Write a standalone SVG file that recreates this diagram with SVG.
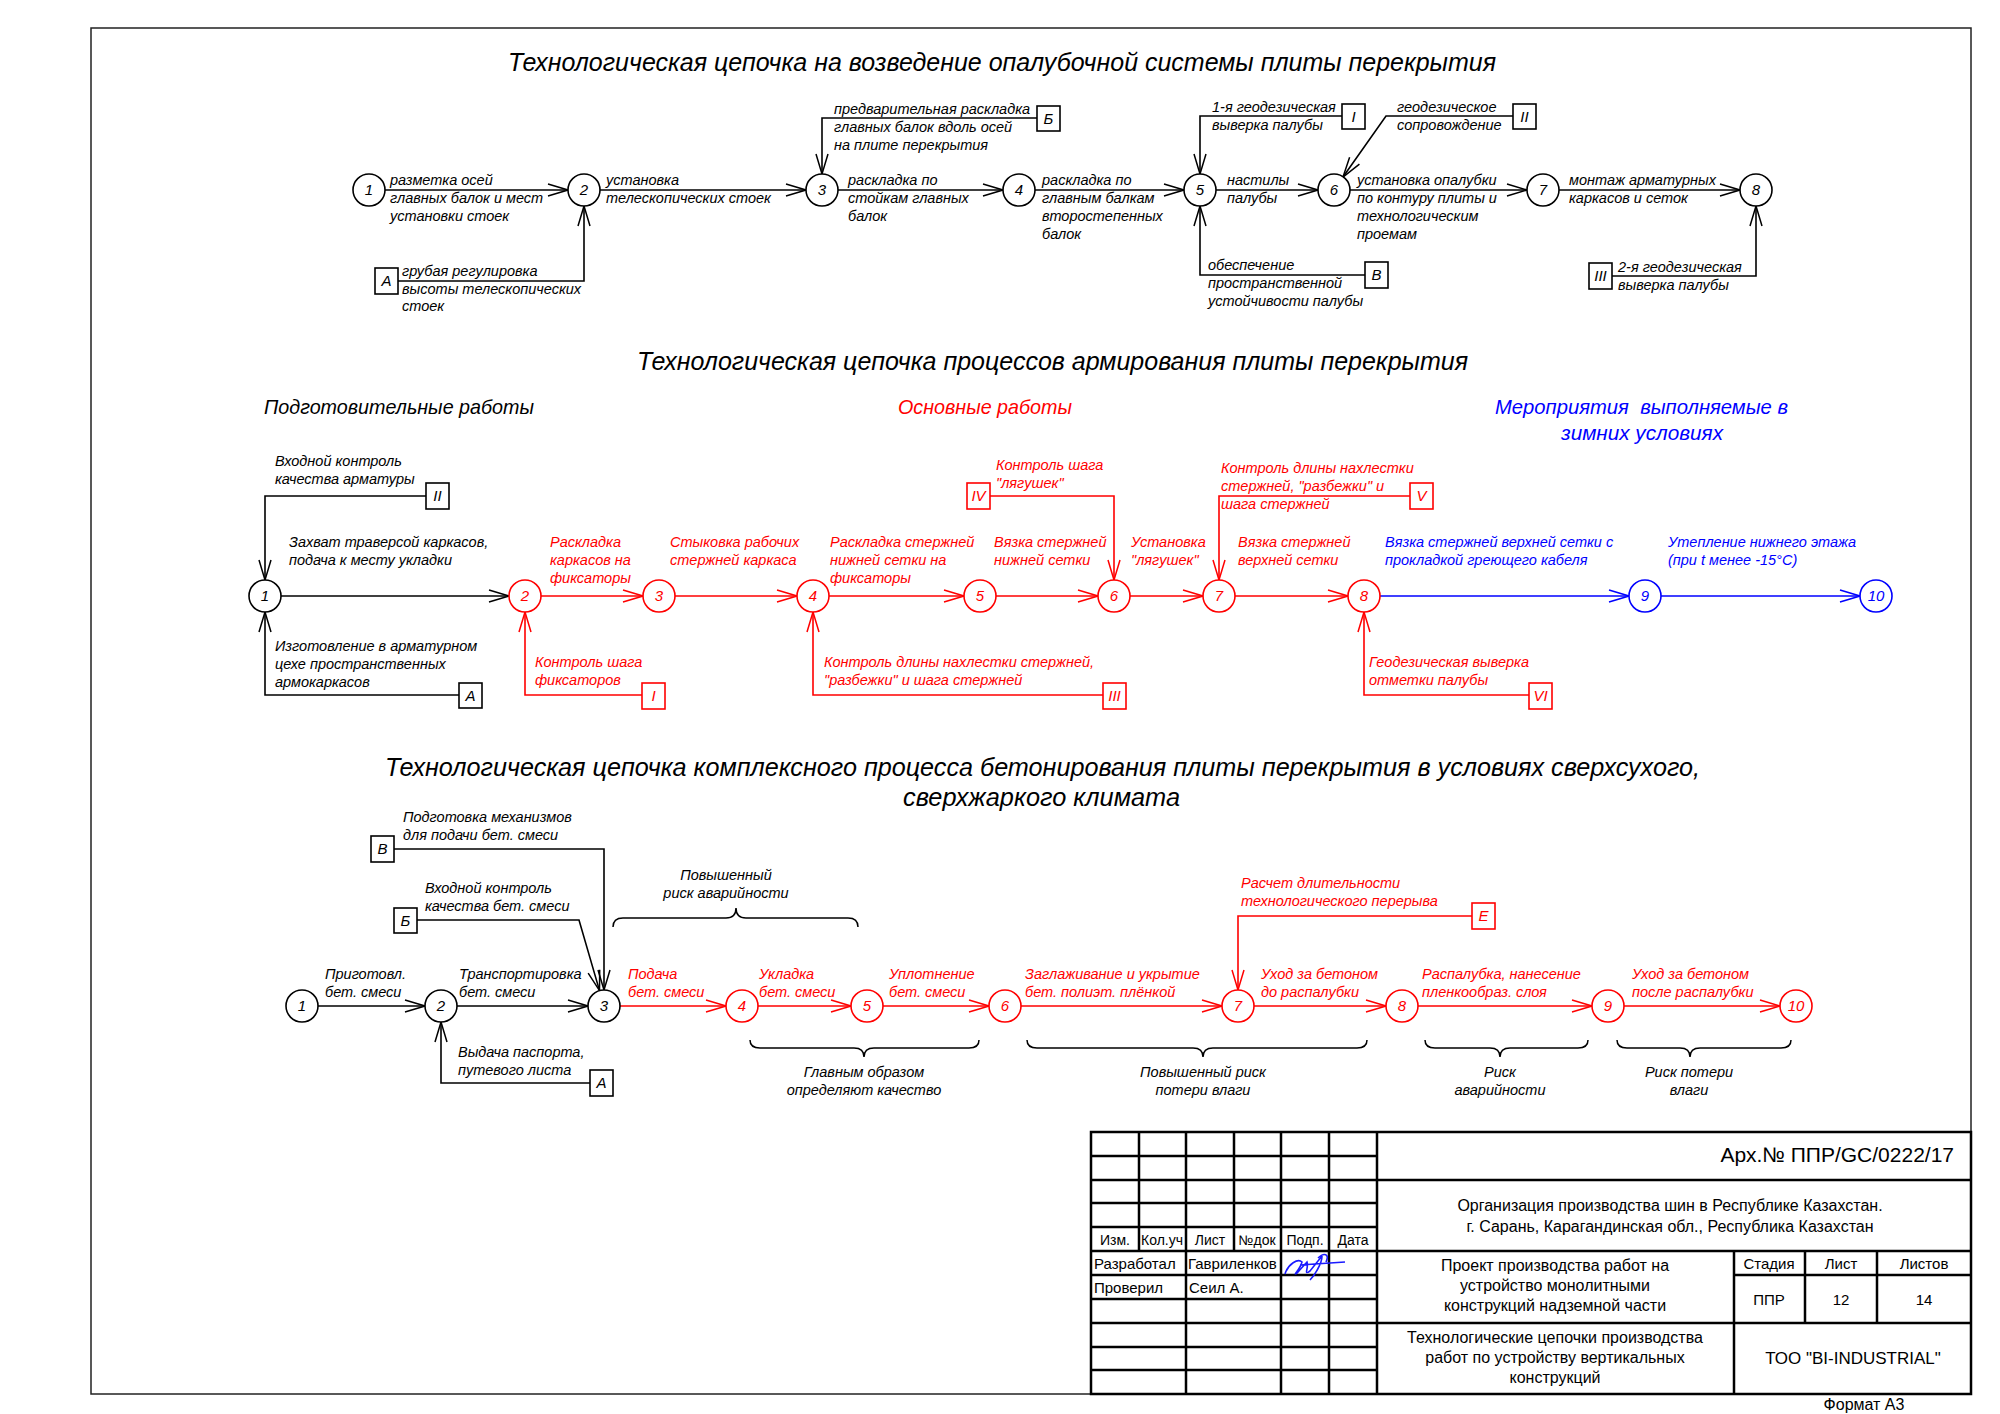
<svg xmlns="http://www.w3.org/2000/svg" width="2000" height="1414" viewBox="0 0 2000 1414">
<style>
text{font-family:"Liberation Sans","DejaVu Sans",sans-serif}
.l{font-size:14.5px;font-style:italic}
.n{font-size:15px;font-style:italic;text-anchor:middle}
.bx{font-size:15px;font-style:italic;text-anchor:middle}
.ttl{font-size:25px;font-style:italic}
.hd{font-size:21px;font-style:italic}
.c{text-anchor:middle}
.tb{font-size:16px}
.k{fill:#000}.r{fill:#ff0000}.b{fill:#0000ff}
.ek{stroke:#000;fill:none;stroke-width:1.6}
.er{stroke:#ff0000;fill:none;stroke-width:1.6}
.eb{stroke:#0000ff;fill:none;stroke-width:1.6}
.ck{stroke:#000;fill:#fff;stroke-width:1.6}
.cr{stroke:#ff0000;fill:#fff;stroke-width:1.6}
.cb{stroke:#0000ff;fill:#fff;stroke-width:1.6}
.br{stroke:#000;fill:none;stroke-width:1.5}
.g{stroke:#000;stroke-width:2.5;fill:none}
</style>
<defs>
<marker id="ak" markerUnits="userSpaceOnUse" markerWidth="24" markerHeight="16" viewBox="-22 -8 24 16" refX="0" refY="0" orient="auto"><path d="M-20,-6 L0,0 L-20,6" fill="none" stroke="#000" stroke-width="1.5"/></marker>
<marker id="ar" markerUnits="userSpaceOnUse" markerWidth="24" markerHeight="16" viewBox="-22 -8 24 16" refX="0" refY="0" orient="auto"><path d="M-20,-6 L0,0 L-20,6" fill="none" stroke="#ff0000" stroke-width="1.5"/></marker>
<marker id="ab" markerUnits="userSpaceOnUse" markerWidth="24" markerHeight="16" viewBox="-22 -8 24 16" refX="0" refY="0" orient="auto"><path d="M-20,-6 L0,0 L-20,6" fill="none" stroke="#0000ff" stroke-width="1.5"/></marker>
</defs>
<rect width="2000" height="1414" fill="#fff"/>
<rect x="91" y="28" width="1880" height="1366" fill="none" stroke="#222" stroke-width="1.5"/>

<!-- titles -->
<text class="ttl" x="508" y="71" textLength="988" lengthAdjust="spacingAndGlyphs">Технологическая цепочка на возведение опалубочной системы плиты перекрытия</text>
<text class="ttl" x="637" y="370" textLength="831" lengthAdjust="spacingAndGlyphs">Технологическая цепочка процессов армирования плиты перекрытия</text>
<text class="ttl" x="385" y="776" textLength="1315" lengthAdjust="spacingAndGlyphs">Технологическая цепочка комплексного процесса бетонирования плиты перекрытия в условиях сверхсухого,</text>
<text class="ttl" x="903" y="806" textLength="277" lengthAdjust="spacingAndGlyphs">сверхжаркого климата</text>
<text class="hd k" x="264" y="414" textLength="270" lengthAdjust="spacingAndGlyphs">Подготовительные работы</text>
<text class="hd r" x="898" y="414" textLength="174" lengthAdjust="spacingAndGlyphs">Основные работы</text>
<text class="hd b" x="1495" y="414" textLength="293" lengthAdjust="spacingAndGlyphs" style="white-space:pre">Мероприятия  выполняемые в</text>
<text class="hd b" x="1561" y="440" textLength="162" lengthAdjust="spacingAndGlyphs">зимних условиях</text>

<!-- connectors -->
<g id="connectors">
<path class="ek" marker-end="url(#ak)" d="M385,190 H568"/>
<path class="ek" marker-end="url(#ak)" d="M600,190 H806"/>
<path class="ek" marker-end="url(#ak)" d="M838,190 H1003"/>
<path class="ek" marker-end="url(#ak)" d="M1035,190 H1184"/>
<path class="ek" marker-end="url(#ak)" d="M1216,190 H1318"/>
<path class="ek" marker-end="url(#ak)" d="M1350,190 H1527"/>
<path class="ek" marker-end="url(#ak)" d="M1559,190 H1740"/>
<path class="ek" marker-end="url(#ak)" d="M398,281 H584 V206"/>
<path class="ek" marker-end="url(#ak)" d="M1037,118 H822 V174"/>
<path class="ek" marker-end="url(#ak)" d="M1342,116 H1200 V174"/>
<path class="ek" marker-end="url(#ak)" d="M1513,116 H1386 L1343,177"/>
<path class="ek" marker-end="url(#ak)" d="M1365,275 H1200 V206"/>
<path class="ek" marker-end="url(#ak)" d="M1612,276 H1756 V206"/>
<!-- section 2 -->
<path class="ek" marker-end="url(#ak)" d="M281,596 H509"/>
<path class="er" marker-end="url(#ar)" d="M541,596 H643"/>
<path class="er" marker-end="url(#ar)" d="M675,596 H797"/>
<path class="er" marker-end="url(#ar)" d="M829,596 H964"/>
<path class="er" marker-end="url(#ar)" d="M996,596 H1098"/>
<path class="er" marker-end="url(#ar)" d="M1130,596 H1203"/>
<path class="er" marker-end="url(#ar)" d="M1235,596 H1348"/>
<path class="eb" marker-end="url(#ab)" d="M1380,596 H1629"/>
<path class="eb" marker-end="url(#ab)" d="M1661,596 H1860"/>
<path class="ek" marker-end="url(#ak)" d="M426,496 H265 V580"/>
<path class="ek" marker-end="url(#ak)" d="M459,695 H265 V612"/>
<path class="er" marker-end="url(#ar)" d="M642,695 H525 V612"/>
<path class="er" marker-end="url(#ar)" d="M1103,695 H813 V612"/>
<path class="er" marker-end="url(#ar)" d="M990,496 H1114 V580"/>
<path class="er" marker-end="url(#ar)" d="M1410,496 H1219 V580"/>
<path class="er" marker-end="url(#ar)" d="M1529,695 H1364 V612"/>
<!-- section 3 -->
<path class="ek" marker-end="url(#ak)" d="M318,1006 H425"/>
<path class="ek" marker-end="url(#ak)" d="M457,1006 H588"/>
<path class="er" marker-end="url(#ar)" d="M620,1006 H726"/>
<path class="er" marker-end="url(#ar)" d="M758,1006 H851"/>
<path class="er" marker-end="url(#ar)" d="M883,1006 H989"/>
<path class="er" marker-end="url(#ar)" d="M1021,1006 H1222"/>
<path class="er" marker-end="url(#ar)" d="M1254,1006 H1386"/>
<path class="er" marker-end="url(#ar)" d="M1418,1006 H1592"/>
<path class="er" marker-end="url(#ar)" d="M1624,1006 H1780"/>
<path class="ek" marker-end="url(#ak)" d="M394,849 H604 V990"/>
<path class="ek" marker-end="url(#ak)" d="M417,920 H579 L599.5,990.6"/>
<path class="ek" marker-end="url(#ak)" d="M590,1083 H441 V1022"/>
<path class="er" marker-end="url(#ar)" d="M1472,916 H1238 V990"/>
</g>

<!-- section 1 nodes -->
<g id="s1n1"><circle class="ck" cx="369" cy="190" r="16"/><text class="n" x="369" y="195">1</text></g>
<g id="s1n2"><circle class="ck" cx="584" cy="190" r="16"/><text class="n" x="584" y="195">2</text></g>
<g id="s1n3"><circle class="ck" cx="822" cy="190" r="16"/><text class="n" x="822" y="195">3</text></g>
<g id="s1n4"><circle class="ck" cx="1019" cy="190" r="16"/><text class="n" x="1019" y="195">4</text></g>
<g id="s1n5"><circle class="ck" cx="1200" cy="190" r="16"/><text class="n" x="1200" y="195">5</text></g>
<g id="s1n6"><circle class="ck" cx="1334" cy="190" r="16"/><text class="n" x="1334" y="195">6</text></g>
<g id="s1n7"><circle class="ck" cx="1543" cy="190" r="16"/><text class="n" x="1543" y="195">7</text></g>
<g id="s1n8"><circle class="ck" cx="1756" cy="190" r="16"/><text class="n" x="1756" y="195">8</text></g>
<g id="s1bA"><rect class="ck" x="375" y="268" width="23" height="26"/><text class="bx" x="386.5" y="286">А</text></g>
<g id="s1bB"><rect class="ck" x="1037" y="106" width="23" height="25"/><text class="bx" x="1048.5" y="124">Б</text></g>
<g id="s1bI"><rect class="ck" x="1342" y="104" width="23" height="25"/><text class="bx" x="1353.5" y="122">I</text></g>
<g id="s1bII"><rect class="ck" x="1513" y="104" width="23" height="25"/><text class="bx" x="1524.5" y="122">II</text></g>
<g id="s1bV"><rect class="ck" x="1365" y="262" width="23" height="26"/><text class="bx" x="1376.5" y="280">В</text></g>
<g id="s1bIII"><rect class="ck" x="1589" y="263" width="23" height="26"/><text class="bx" x="1600.5" y="281">III</text></g>

<g id="s1labels" class="l k">
<text x="390" y="185">разметка осей</text><text x="390" y="203">главных балок и мест</text><text x="390" y="221">установки стоек</text>
<text x="606" y="185">установка</text><text x="606" y="203">телескопических стоек</text>
<text x="848" y="185">раскладка по</text><text x="848" y="203">стойкам главных</text><text x="848" y="221">балок</text>
<text x="1042" y="185">раскладка по</text><text x="1042" y="203">главным балкам</text><text x="1042" y="221">второстепенных</text><text x="1042" y="239">балок</text>
<text x="1227" y="185">настилы</text><text x="1227" y="203">палубы</text>
<text x="1357" y="185">установка опалубки</text><text x="1357" y="203">по контуру плиты и</text><text x="1357" y="221">технологическим</text><text x="1357" y="239">проемам</text>
<text x="1569" y="185">монтаж арматурных</text><text x="1569" y="203">каркасов и сеток</text>
<text x="402" y="276">грубая регулировка</text><text x="402" y="294">высоты телескопических</text><text x="402" y="311">стоек</text>
<text x="834" y="114">предварительная раскладка</text><text x="834" y="132">главных балок вдоль осей</text><text x="834" y="150">на плите перекрытия</text>
<text x="1212" y="112">1-я геодезическая</text><text x="1212" y="130">выверка палубы</text>
<text x="1397" y="112">геодезическое</text><text x="1397" y="130">сопровождение</text>
<text x="1208" y="270">обеспечение</text><text x="1208" y="288">пространственной</text><text x="1208" y="306">устойчивости палубы</text>
<text x="1618" y="272">2-я геодезическая</text><text x="1618" y="290">выверка палубы</text>
</g>

<!-- section 2 nodes -->
<g id="s2n1"><circle class="ck" cx="265" cy="596" r="16"/><text class="n k" x="265" y="601">1</text></g>
<g id="s2n2"><circle class="cr" cx="525" cy="596" r="16"/><text class="n r" x="525" y="601">2</text></g>
<g id="s2n3"><circle class="cr" cx="659" cy="596" r="16"/><text class="n r" x="659" y="601">3</text></g>
<g id="s2n4"><circle class="cr" cx="813" cy="596" r="16"/><text class="n r" x="813" y="601">4</text></g>
<g id="s2n5"><circle class="cr" cx="980" cy="596" r="16"/><text class="n r" x="980" y="601">5</text></g>
<g id="s2n6"><circle class="cr" cx="1114" cy="596" r="16"/><text class="n r" x="1114" y="601">6</text></g>
<g id="s2n7"><circle class="cr" cx="1219" cy="596" r="16"/><text class="n r" x="1219" y="601">7</text></g>
<g id="s2n8"><circle class="cr" cx="1364" cy="596" r="16"/><text class="n r" x="1364" y="601">8</text></g>
<g id="s2n9"><circle class="cb" cx="1645" cy="596" r="16"/><text class="n b" x="1645" y="601">9</text></g>
<g id="s2n10"><circle class="cb" cx="1876" cy="596" r="16"/><text class="n b" x="1876" y="601">10</text></g>
<g id="s2bII"><rect class="ck" x="426" y="483" width="23" height="26"/><text class="bx k" x="437.5" y="501">II</text></g>
<g id="s2bA"><rect class="ck" x="459" y="683" width="23" height="25"/><text class="bx k" x="470.5" y="701">А</text></g>
<g id="s2bI"><rect class="cr" x="642" y="683" width="23" height="26"/><text class="bx r" x="653.5" y="701">I</text></g>
<g id="s2bIII"><rect class="cr" x="1103" y="683" width="23" height="26"/><text class="bx r" x="1114.5" y="701">III</text></g>
<g id="s2bIV"><rect class="cr" x="967" y="483" width="23" height="26"/><text class="bx r" x="978.5" y="501">IV</text></g>
<g id="s2bV"><rect class="cr" x="1410" y="483" width="23" height="26"/><text class="bx r" x="1421.5" y="501">V</text></g>
<g id="s2bVI"><rect class="cr" x="1529" y="683" width="23" height="26"/><text class="bx r" x="1540.5" y="701">VI</text></g>

<g id="s2labels" class="l">
<text class="k" x="289" y="547">Захват траверсой каркасов,</text><text class="k" x="289" y="565">подача к месту укладки</text>
<text class="r" x="550" y="547">Раскладка</text><text class="r" x="550" y="565">каркасов на</text><text class="r" x="550" y="583">фиксаторы</text>
<text class="r" x="670" y="547">Стыковка рабочих</text><text class="r" x="670" y="565">стержней каркаса</text>
<text class="r" x="830" y="547">Раскладка стержней</text><text class="r" x="830" y="565">нижней сетки на</text><text class="r" x="830" y="583">фиксаторы</text>
<text class="r" x="994" y="547">Вязка стержней</text><text class="r" x="994" y="565">нижней сетки</text>
<text class="r" x="1131" y="547">Установка</text><text class="r" x="1131" y="565">"лягушек"</text>
<text class="r" x="1238" y="547">Вязка стержней</text><text class="r" x="1238" y="565">верхней сетки</text>
<text class="b" x="1385" y="547">Вязка стержней верхней сетки с</text><text class="b" x="1385" y="565">прокладкой греющего кабеля</text>
<text class="b" x="1668" y="547">Утепление нижнего этажа</text><text class="b" x="1668" y="565">(при t менее -15°С)</text>
<text class="k" x="275" y="466">Входной контроль</text><text class="k" x="275" y="484">качества арматуры</text>
<text class="k" x="275" y="651">Изготовление в арматурном</text><text class="k" x="275" y="669">цехе пространственных</text><text class="k" x="275" y="687">армокаркасов</text>
<text class="r" x="535" y="667">Контроль шага</text><text class="r" x="535" y="685">фиксаторов</text>
<text class="r" x="824" y="667">Контроль длины нахлестки стержней,</text><text class="r" x="824" y="685">"разбежки" и шага стержней</text>
<text class="r" x="996" y="470">Контроль шага</text><text class="r" x="996" y="488">"лягушек"</text>
<text class="r" x="1221" y="473">Контроль длины нахлестки</text><text class="r" x="1221" y="491">стержней, "разбежки" и</text><text class="r" x="1221" y="509">шага стержней</text>
<text class="r" x="1369" y="667">Геодезическая выверка</text><text class="r" x="1369" y="685">отметки палубы</text>
</g>

<!-- section 3 nodes -->
<g id="s3n1"><circle class="ck" cx="302" cy="1006" r="16"/><text class="n k" x="302" y="1011">1</text></g>
<g id="s3n2"><circle class="ck" cx="441" cy="1006" r="16"/><text class="n k" x="441" y="1011">2</text></g>
<g id="s3n3"><circle class="ck" cx="604" cy="1006" r="16"/><text class="n k" x="604" y="1011">3</text></g>
<g id="s3n4"><circle class="cr" cx="742" cy="1006" r="16"/><text class="n r" x="742" y="1011">4</text></g>
<g id="s3n5"><circle class="cr" cx="867" cy="1006" r="16"/><text class="n r" x="867" y="1011">5</text></g>
<g id="s3n6"><circle class="cr" cx="1005" cy="1006" r="16"/><text class="n r" x="1005" y="1011">6</text></g>
<g id="s3n7"><circle class="cr" cx="1238" cy="1006" r="16"/><text class="n r" x="1238" y="1011">7</text></g>
<g id="s3n8"><circle class="cr" cx="1402" cy="1006" r="16"/><text class="n r" x="1402" y="1011">8</text></g>
<g id="s3n9"><circle class="cr" cx="1608" cy="1006" r="16"/><text class="n r" x="1608" y="1011">9</text></g>
<g id="s3n10"><circle class="cr" cx="1796" cy="1006" r="16"/><text class="n r" x="1796" y="1011">10</text></g>
<g id="s3bV"><rect class="ck" x="371" y="836" width="23" height="26"/><text class="bx k" x="382.5" y="854">В</text></g>
<g id="s3bB"><rect class="ck" x="394" y="908" width="23" height="25"/><text class="bx k" x="405.5" y="926">Б</text></g>
<g id="s3bA"><rect class="ck" x="590" y="1070" width="23" height="26"/><text class="bx k" x="601.5" y="1088">А</text></g>
<g id="s3bE"><rect class="cr" x="1472" y="903" width="23" height="26"/><text class="bx r" x="1483.5" y="921">Е</text></g>

<g id="s3labels" class="l">
<text class="k" x="325" y="979">Приготовл.</text><text class="k" x="325" y="997">бет. смеси</text>
<text class="k" x="459" y="979">Транспортировка</text><text class="k" x="459" y="997">бет. смеси</text>
<text class="r" x="628" y="979">Подача</text><text class="r" x="628" y="997">бет. смеси</text>
<text class="r" x="759" y="979">Укладка</text><text class="r" x="759" y="997">бет. смеси</text>
<text class="r" x="889" y="979">Уплотнение</text><text class="r" x="889" y="997">бет. смеси</text>
<text class="r" x="1025" y="979">Заглаживание и укрытие</text><text class="r" x="1025" y="997">бет. полиэт. плёнкой</text>
<text class="r" x="1261" y="979">Уход за бетоном</text><text class="r" x="1261" y="997">до распалубки</text>
<text class="r" x="1422" y="979">Распалубка, нанесение</text><text class="r" x="1422" y="997">пленкообраз. слоя</text>
<text class="r" x="1632" y="979">Уход за бетоном</text><text class="r" x="1632" y="997">после распалубки</text>
<text class="k" x="403" y="822">Подготовка механизмов</text><text class="k" x="403" y="840">для подачи бет. смеси</text>
<text class="k" x="425" y="893">Входной контроль</text><text class="k" x="425" y="911">качества бет. смеси</text>
<text class="k" x="458" y="1057">Выдача паспорта,</text><text class="k" x="458" y="1075">путевого листа</text>
<text class="r" x="1241" y="888">Расчет длительности</text><text class="r" x="1241" y="906">технологического перерыва</text>
</g>

<!-- braces -->
<g id="braces">
<path class="br" d="M613,927 Q613,918 623,918 L726,918 Q736,918 736,908 Q736,918 746,918 L848,918 Q858,918 858,927"/>
<path class="br" d="M750,1040 Q750,1048 760,1048 L854,1048 Q864,1048 864,1057 Q864,1048 874,1048 L969,1048 Q979,1048 979,1040"/>
<path class="br" d="M1027,1040 Q1027,1048 1037,1048 L1193,1048 Q1203,1048 1203,1057 Q1203,1048 1213,1048 L1357,1048 Q1367,1048 1367,1040"/>
<path class="br" d="M1425,1040 Q1425,1048 1435,1048 L1490,1048 Q1500,1048 1500,1057 Q1500,1048 1510,1048 L1578,1048 Q1588,1048 1588,1040"/>
<path class="br" d="M1617,1040 Q1617,1048 1627,1048 L1680,1048 Q1690,1048 1690,1057 Q1690,1048 1700,1048 L1781,1048 Q1791,1048 1791,1040"/>
<g class="l k c">
<text x="726" y="880">Повышенный</text><text x="726" y="898">риск аварийности</text>
<text x="864" y="1077">Главным образом</text><text x="864" y="1095">определяют качество</text>
<text x="1203" y="1077">Повышенный риск</text><text x="1203" y="1095">потери влаги</text>
<text x="1500" y="1077">Риск</text><text x="1500" y="1095">аварийности</text>
<text x="1689" y="1077">Риск потери</text><text x="1689" y="1095">влаги</text>
</g>
</g>

<!-- title block -->
<g id="titleblock">
<path class="g" d="M1091,1132 H1971 V1394 H1091 Z"/>
<path class="g" d="M1377,1132 V1394 M1377,1180 H1971 M1091,1251 H1971 M1734,1275 H1971 M1377,1323 H1971 M1734,1251 V1394 M1805,1251 V1323 M1877,1251 V1323"/>
<path class="g" d="M1091,1156 H1377 M1091,1180 H1377 M1091,1203 H1377 M1091,1227 H1377 M1091,1275 H1377 M1091,1299 H1377 M1091,1323 H1377 M1091,1347 H1377 M1091,1370 H1377"/>
<path class="g" d="M1139,1132 V1251 M1186,1132 V1394 M1234,1132 V1251 M1281,1132 V1394 M1329,1132 V1394"/>
<text x="1954" y="1162" style="font-size:21px;text-anchor:end">Арх.№ ППР/GC/0222/17</text>
<g class="tb c">
<text x="1670" y="1211">Организация производства шин в Республике Казахстан.</text>
<text x="1670" y="1232">г. Сарань, Карагандинская обл., Республика Казахстан</text>
<text x="1555" y="1271">Проект производства работ на</text>
<text x="1555" y="1291">устройство монолитными</text>
<text x="1555" y="1311">конструкций надземной части</text>
<text x="1555" y="1343">Технологические цепочки производства</text>
<text x="1555" y="1363">работ по устройству вертикальных</text>
<text x="1555" y="1383">конструкций</text>
<text x="1853" y="1364" style="font-size:17px">ТОО "BI-INDUSTRIAL"</text>
<text x="1864" y="1410">Формат А3</text>
</g>
<g class="c" style="font-size:15px">
<text x="1769" y="1269">Стадия</text><text x="1841" y="1269">Лист</text><text x="1924" y="1269">Листов</text>
<text x="1769" y="1305">ППР</text><text x="1841" y="1305">12</text><text x="1924" y="1305">14</text>
</g>
<g class="c" style="font-size:14px">
<text x="1115" y="1245">Изм.</text><text x="1162" y="1245">Кол.уч</text><text x="1210" y="1245">Лист</text><text x="1257" y="1245">№док</text><text x="1305" y="1245">Подп.</text><text x="1353" y="1245">Дата</text>
</g>
<g style="font-size:15px">
<text x="1094" y="1269">Разработал</text><text x="1188" y="1269">Гавриленков</text>
<text x="1094" y="1293">Проверил</text><text x="1189" y="1293">Сеил А.</text>
</g>
<path d="M1285,1274 C1288,1264 1298,1258 1302,1262 C1300,1270 1292,1276 1297,1273 L1307,1262 C1309,1268 1303,1276 1310,1271 L1322,1256 C1322,1264 1314,1276 1310,1280 M1300,1265 L1345,1262 M1318,1258 C1324,1252 1330,1254 1326,1262" fill="none" stroke="#1a1aff" stroke-width="1.6"/>
</g>
</svg>
